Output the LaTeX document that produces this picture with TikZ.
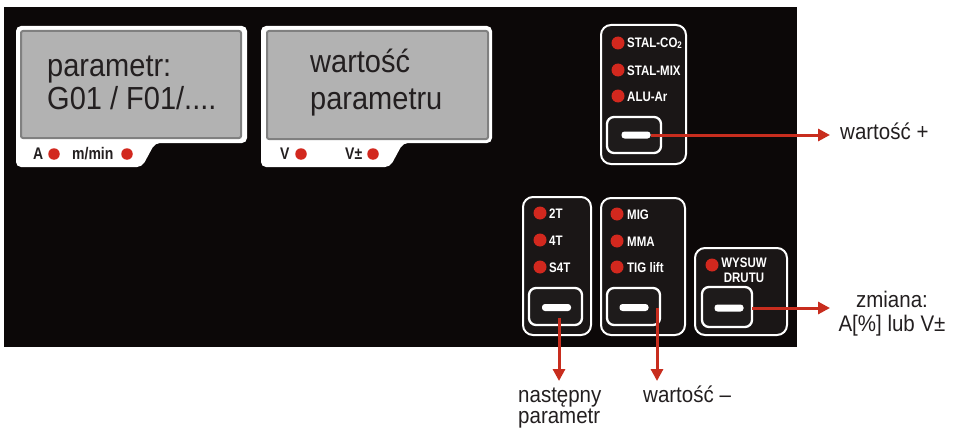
\documentclass[tikz,border=0pt]{standalone}
\usepackage{fontspec}
\usepackage{graphicx}
\setmainfont{Liberation Sans}
\usetikzlibrary{arrows.meta}
\definecolor{panelblack}{RGB}{12,8,8}
\definecolor{groupfill}{RGB}{26,22,22}
\definecolor{btnfill}{RGB}{30,27,27}
\definecolor{ledred}{RGB}{210,40,30}
\definecolor{arrowred}{RGB}{200,45,30}
\definecolor{lcdgray}{RGB}{178,178,178}
\definecolor{lcdborder}{RGB}{128,128,128}
\definecolor{darktext}{RGB}{35,31,32}
\newcommand{\vst}[1]{\scalebox{1}[1.1]{#1}}
\newcommand{\vsb}[1]{\scalebox{1}[1.2]{#1}}
\tikzset{
  lcdtext/.style={inner sep=0pt, anchor=base west, text=darktext, font=\fontsize{29}{29}\selectfont},
  lbltext/.style={inner sep=0pt, anchor=base west, text=darktext, font=\fontsize{20.5}{20.5}\selectfont},
  paneltext/.style={inner sep=0pt, anchor=base west, text=white, font=\bfseries\fontsize{11.5}{11.5}\selectfont},
  disptext/.style={inner sep=0pt, anchor=base west, text=darktext, font=\bfseries\fontsize{14}{14}\selectfont},
  led/.style={circle, fill=ledred, inner sep=0pt, minimum size=13pt},
  dled/.style={circle, fill=ledred, inner sep=0pt, minimum size=11.5pt},
  groupbox/.style={draw=white, line width=2pt, fill=groupfill, rounded corners=10pt},
  btn/.style={draw=white, line width=2.3pt, fill=btnfill, rounded corners=7pt, inner sep=0pt},
  bar/.style={fill=white, rounded corners=3pt, inner sep=0pt, minimum width=29pt, minimum height=7pt},
  redarrow/.style={draw=arrowred, line width=3pt, -{Triangle[length=12pt, width=12pt]}},
}
\begin{document}
\begin{tikzpicture}[x=1pt, y=-1pt]
\useasboundingbox (0,0) rectangle (958,428);
% panel
\fill[panelblack] (4,7) rectangle (797,347);
% display 1
\fill[white, rounded corners=5pt] (16,26) -- (247,26) -- (247,143) -- (155,143) -- (142,167) -- (16,167) -- cycle;
\draw[lcdborder, fill=lcdgray, line width=2pt, rounded corners=2pt] (21,31) rectangle (241,138);
\node[lcdtext] (p1) at (47,77) {\vst{parametr:}};
\node[lcdtext] (p2) at (47,109) {\vst{G01 / F01/....}};
\node[disptext] (dA) at (33,159) {\vsb{A}};
\node[dled] (ledA) at (54,154) {};
\node[disptext] (dM) at (72,159) {\vsb{m/min}};
\node[dled] (ledM) at (127,154) {};
% display 2
\fill[white, rounded corners=5pt] (261,26) -- (492,26) -- (492,143) -- (403,143) -- (390,167) -- (261,167) -- cycle;
\draw[lcdborder, fill=lcdgray, line width=2pt, rounded corners=2pt] (267,31) rectangle (488,139);
\node[lcdtext] (w1) at (310,73) {\vst{wartość}};
\node[lcdtext] (w2) at (310,109) {\vst{parametru}};
\node[disptext] (dV) at (280,159) {\vsb{V}};
\node[dled] (ledV) at (301,154) {};
\node[disptext] (dVpm) at (345,159) {\vsb{V±}};
\node[dled] (ledVpm) at (373,154) {};
% group STAL
\draw[groupbox] (601,25) rectangle (686,164);
\node[led] (l1) at (618,43) {};
\node[led] (l2) at (618,70) {};
\node[led] (l3) at (618,96) {};
\node[paneltext] (t1) at (627,48) {\vsb{STAL-CO\raisebox{-0.5pt}{\fontsize{8}{8}\selectfont 2}}};
\node[paneltext] (t2) at (627,75) {\vsb{STAL-MIX}};
\node[paneltext] (t3) at (627,101) {\vsb{ALU-Ar}};
\draw[btn] (607,117) rectangle (661,153);
\node[bar] (b1) at (636,135) {};
% group 2T
\draw[groupbox] (523,197) rectangle (591,335);
\node[led] (l4) at (540,213) {};
\node[led] (l5) at (540,240) {};
\node[led] (l6) at (540,267) {};
\node[paneltext] (t4) at (549,218) {\vsb{2T}};
\node[paneltext] (t5) at (549,245) {\vsb{4T}};
\node[paneltext] (t6) at (549,272) {\vsb{S4T}};
\draw[btn] (529,288) rectangle (582,325);
\node[bar] (b2) at (556.5,307.5) {};
% group MIG
\draw[groupbox] (601,198) rectangle (685,335);
\node[led] (l7) at (617,214) {};
\node[led] (l8) at (617,241) {};
\node[led] (l9) at (617,267) {};
\node[paneltext] (t7) at (627,219) {\vsb{MIG}};
\node[paneltext] (t8) at (627,246) {\vsb{MMA}};
\node[paneltext] (t9) at (627,272) {\vsb{TIG lift}};
\draw[btn] (607,288) rectangle (660,325);
\node[bar] (b3) at (634,307.5) {};
% group WYSUW
\draw[groupbox] (695,248) rectangle (787,335);
\node[led] (l10) at (712,265) {};
\node[paneltext, anchor=base] (t10) at (744,267.5) {\vsb{WYSUW}};
\node[paneltext, anchor=base] (t11) at (744,282.5) {\vsb{DRUTU}};
\draw[btn] (702,287) rectangle (752,327);
\node[bar] (b4) at (729,308) {};
\coordinate (b4edge) at (752,308);
% labels
\node[lbltext] (lplus) at (840,139) {\vst{wartość +}};
\node[lbltext, anchor=base] (lz1) at (892,307) {\vst{zmiana:}};
\node[lbltext, anchor=base] (lz2) at (892,331) {\vst{A[\%] lub V±}};
\node[lbltext] (ln1) at (518,402) {\vst{następny}};
\node[lbltext] (ln2) at (518,423) {\vst{parametr}};
\node[lbltext] (lminus) at (643,402) {\vst{wartość –}};
% arrows
\coordinate (tipPlus) at (830,135);
\coordinate (tipZ) at (830,308);
\coordinate (s2) at (559,318);
\coordinate (tip2) at (559,381);
\coordinate (s3) at (657,308);
\coordinate (tip3) at (657,381);
\draw[redarrow] (b1.east) -- (tipPlus);
\draw[redarrow] (b4edge) -- (tipZ);
\draw[redarrow] (s2) -- (tip2);
\draw[redarrow] (s3) -- (tip3);
\end{tikzpicture}
\end{document}
